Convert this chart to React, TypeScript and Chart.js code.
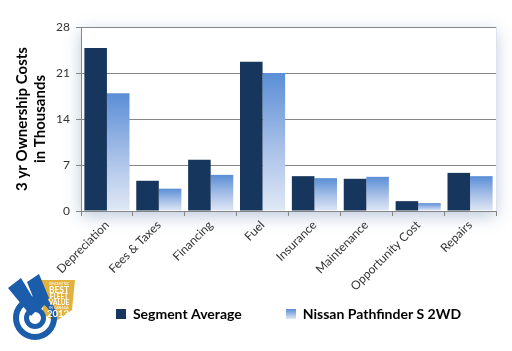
import React, { useEffect, useRef } from "react";
import { Chart, registerables } from "chart.js";

Chart.register(...registerables);

const categories = ["Depreciation", "Fees & Taxes", "Financing", "Fuel", "Insurance", "Maintenance", "Opportunity Cost", "Repairs"];
const segmentAverage = [24.8, 4.6, 7.8, 22.7, 5.3, 4.9, 1.5, 5.8];
const nissanPathfinder = [17.9, 3.4, 5.5, 21.0, 5.0, 5.2, 1.2, 5.3];
const yTicks = [0, 7, 14, 21, 28];
const seriesNames = ["Segment Average", "Nissan Pathfinder S 2WD"];
const yTitle = ["3 yr Ownership Costs", "in Thousands"];

const FONT = "Lato, 'Liberation Sans', sans-serif";
const NAVY = "#17365D";

function Logo() {
  return (
    <svg width="72" height="72" viewBox="0 0 72 72" style={{ position: "absolute", left: 5, top: 272 }}>
      <polygon points="36,8 70,8 67,38 50,50 38,42" fill="#E3B23C" />
      <polygon points="3,16 16,6 34,36 26,44" fill="#1B5CAB" />
      <polygon points="22,10 34,2 44,26 34,40" fill="#1B5CAB" />
      <circle cx="30" cy="46" r="19" fill="none" stroke="#1B5CAB" strokeWidth="6" />
      <circle cx="30" cy="46" r="8.5" fill="none" stroke="#1B5CAB" strokeWidth="5" />
      <rect x="39" y="10" width="29" height="38" fill="#E3B23C" opacity="0" />
      <text x="54" y="12.5" fontSize="3.5" fill="#fff" textAnchor="middle" fontFamily={FONT}>VINCENTRIC</text>
      <text x="54" y="20.5" fontSize="8.5" fontWeight="bold" fill="#fff" textAnchor="middle" fontFamily={FONT}>BEST</text>
      <text x="54" y="26.5" fontSize="6.5" fontWeight="bold" fill="#fff" textAnchor="middle" fontFamily={FONT}>FLEET</text>
      <text x="54" y="32.5" fontSize="6.5" fontWeight="bold" fill="#fff" textAnchor="middle" fontFamily={FONT}>VALUE</text>
      <text x="54" y="36.5" fontSize="3.5" fill="#fff" textAnchor="middle" fontFamily={FONT}>IN CANADA</text>
      <text x="53" y="45" fontSize="9.5" fontWeight="bold" fill="#fff" textAnchor="middle" fontFamily={FONT}>2013</text>
    </svg>
  );
}

function makeBox(fill: (x: CanvasRenderingContext2D) => string | CanvasGradient) {
  const c = document.createElement("canvas");
  c.width = 10;
  c.height = 10;
  const x = c.getContext("2d")!;
  x.fillStyle = fill(x);
  x.fillRect(0, 0, 10, 10);
  return c;
}

export default function App() {
  const ref = useRef<HTMLCanvasElement | null>(null);

  useEffect(() => {
    if (!ref.current) return;

    const plotShadow = {
      id: "plotShadow",
      beforeDraw(chart: any) {
        const { ctx, chartArea: a } = chart;
        if (!a) return;
        ctx.save();
        ctx.shadowColor = "rgba(90,120,170,0.4)";
        ctx.shadowBlur = 16;
        ctx.shadowOffsetX = 0;
        ctx.shadowOffsetY = 5;
        ctx.fillStyle = "#ffffff";
        ctx.fillRect(a.left, a.top, a.right - a.left, a.bottom - a.top);
        ctx.restore();
        ctx.save();
        ctx.strokeStyle = "#dde3ec";
        ctx.lineWidth = 1;
        ctx.beginPath();
        ctx.moveTo(a.right + 0.5, a.top);
        ctx.lineTo(a.right + 0.5, a.bottom);
        ctx.stroke();
        ctx.restore();
      },
    };

    const gradientFill = (context: any) => {
      const chart = context.chart;
      const area = chart.chartArea;
      if (!area || context.type !== "data") return "#8FB0E3";
      const v = context.parsed ? context.parsed.y : nissanPathfinder[context.dataIndex];
      const yScale = chart.scales.y;
      const top = yScale.getPixelForValue(v);
      const bottom = yScale.getPixelForValue(0);
      if (!isFinite(top) || !isFinite(bottom) || bottom - top < 1) return "#8FB0E3";
      const g = chart.ctx.createLinearGradient(0, top, 0, bottom);
      g.addColorStop(0, "#5A8ED6");
      g.addColorStop(0.55, "#A9C1E8");
      g.addColorStop(1, "#E0E8F5");
      return g;
    };

    const navyBox = makeBox(() => NAVY);
    const gradBox = makeBox((x) => {
      const g = x.createLinearGradient(0, 0, 0, 10);
      g.addColorStop(0, "#5A8ED6");
      g.addColorStop(1, "#E0E8F5");
      return g;
    });

    const chart = new Chart(ref.current, {
      type: "bar",
      plugins: [plotShadow],
      data: {
        labels: categories,
        datasets: [
          { label: seriesNames[0], data: segmentAverage, backgroundColor: NAVY, borderWidth: 0 },
          { label: seriesNames[1], data: nissanPathfinder, backgroundColor: gradientFill, borderWidth: 0 },
        ],
      },
      options: {
        animation: false,
        responsive: false,
        maintainAspectRatio: false,
        layout: { padding: { top: 27, right: 16, left: 0, bottom: 20 } },
        datasets: { bar: { categoryPercentage: 0.87, barPercentage: 1.0 } },
        plugins: {
          tooltip: { enabled: false },
          legend: {
            position: "bottom",
            fullSize: false,
            labels: {
              font: { family: FONT, size: 14, weight: "bold" },
              color: "#000000",
              usePointStyle: true,
              boxWidth: 10,
              boxHeight: 10,
              padding: 10,
              generateLabels: () => [
                { text: seriesNames[0] + "          ", pointStyle: navyBox as any, fillStyle: NAVY, strokeStyle: NAVY, lineWidth: 0, datasetIndex: 0, hidden: false },
                { text: seriesNames[1], pointStyle: gradBox as any, fillStyle: "#8FB0E3", strokeStyle: "#8FB0E3", lineWidth: 0, datasetIndex: 1, hidden: false },
              ],
            },
          },
        },
        scales: {
          x: {
            grid: { display: true, offset: true, drawOnChartArea: false, drawTicks: true, tickLength: 5, color: "#868686" },
            border: { display: true, color: "#868686", width: 1 },
            ticks: {
              minRotation: 45,
              maxRotation: 45,
              autoSkip: false,
              padding: 2,
              font: { family: FONT, size: 12 },
              color: "#333333",
            },
            afterFit: (s: any) => {
              s.height = 86;
            },
          },
          y: {
            min: 0,
            max: 28,
            afterBuildTicks: (s: any) => {
              s.ticks = yTicks.map((v) => ({ value: v }));
            },
            grid: { color: "#868686", drawTicks: true, tickLength: 5 },
            border: { display: true, color: "#868686", width: 1 },
            ticks: { font: { family: FONT, size: 12 }, color: "#333333", padding: 6 },
            title: {
              display: true,
              text: yTitle,
              font: { family: FONT, size: 15, weight: "bold", lineHeight: 1.2 },
              color: "#000000",
              padding: { top: 13, bottom: 0 },
            },
            afterFit: (s: any) => {
              s.width = 81;
            },
          },
        },
      },
    });
    return () => chart.destroy();
  }, []);

  return (
    <div style={{ position: "fixed", left: 0, top: 0, width: 512, height: 351, background: "#fff" }}>
      <canvas ref={ref} width={512} height={351} style={{ display: "block" }} />
      <Logo />
    </div>
  );
}
